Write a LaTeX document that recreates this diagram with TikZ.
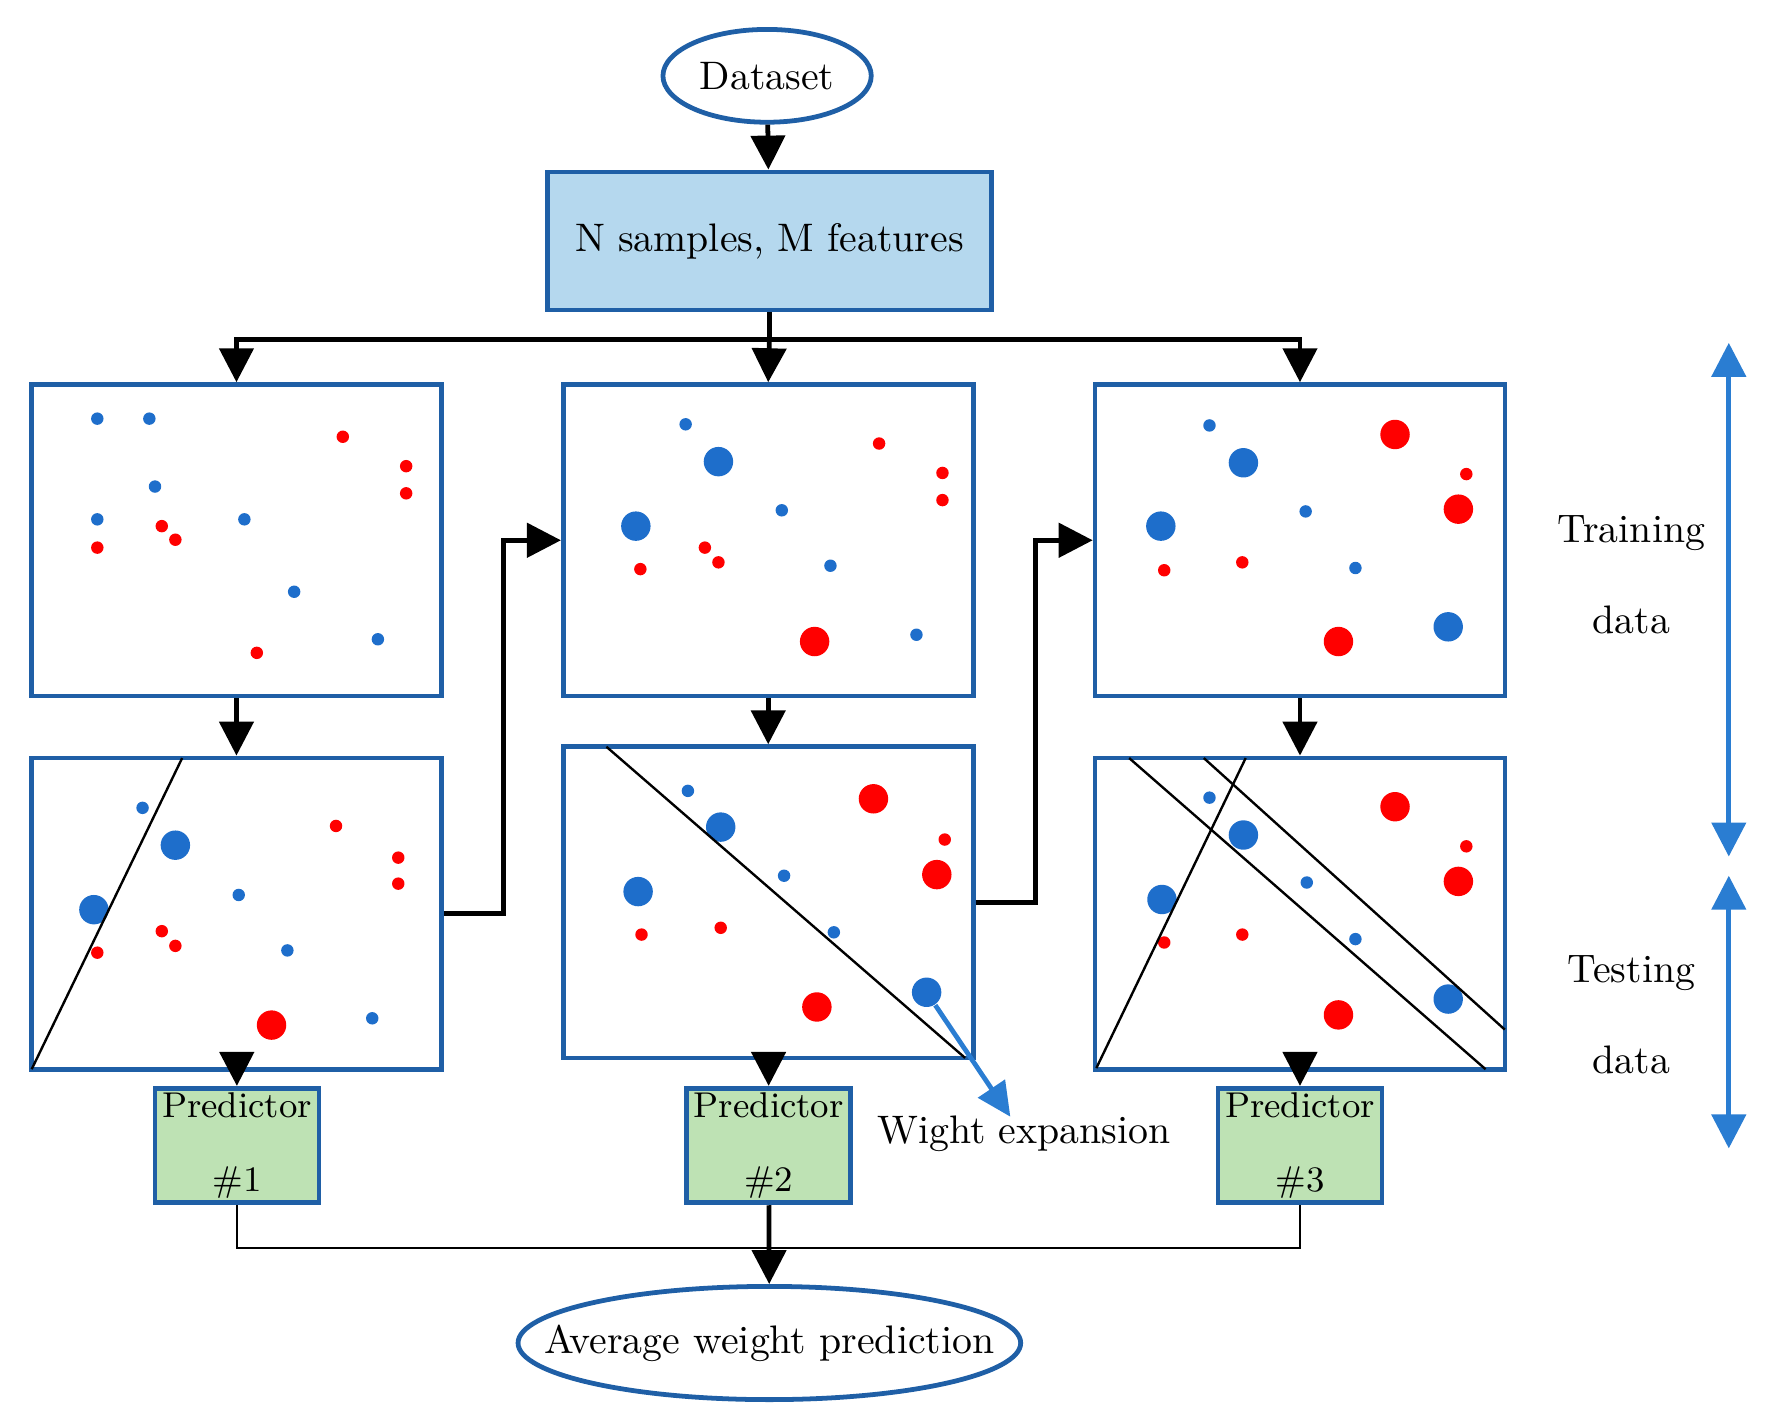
\documentclass[tikz,border=0pt]{standalone}
\usetikzlibrary{arrows.meta,shapes.geometric}
\definecolor{frameblue}{HTML}{1F5FA6}
\definecolor{dotblue}{HTML}{1E6ECB}
\definecolor{dotred}{HTML}{FF0000}
\definecolor{spanblue}{HTML}{2A7DD2}
\definecolor{samplefill}{HTML}{B5D8EE}
\definecolor{predfill}{HTML}{BEE2B4}
\begin{document}
\begin{tikzpicture}[x=0.01cm,y=-0.01cm,
		panel/.style={draw=frameblue,line width=1.2pt,minimum width=3.62cm,minimum height=2.75cm,inner sep=0pt},
		oval/.style={draw=frameblue,line width=1.2pt,ellipse,inner sep=0pt},
		predictor/.style={draw=frameblue,line width=1.2pt,fill=predfill,minimum width=1.45cm,minimum height=0.99cm,inner sep=1pt,align=center,font=\small},
		flow/.style={line width=1.2pt,-{Triangle[length=3mm,width=3mm]}},
		span/.style={spanblue,line width=1.2pt,{Triangle[length=3mm,width=3mm]}-{Triangle[length=3mm,width=3mm]}},
		cut/.style={line width=0.6pt}
	]
	\useasboundingbox (0,0) rectangle (1560,1262);
	% top
	\node[oval,minimum width=1.84cm,minimum height=0.82cm,label=center:Dataset] (dataset) at (678,67) {};
	\node[draw=frameblue,line width=1.2pt,fill=samplefill,minimum width=3.92cm,minimum height=1.22cm] (samples) at (680,213) {N samples, M features};
	% panels
	\node[panel] (train1) at (209,477.5) {};
	\node[panel] (train2) at (679,477.5) {};
	\node[panel] (train3) at (1149,477.5) {};
	\node[panel] (test1) at (209,807.5) {};
	\node[panel] (test2) at (679,797.5) {};
	\node[panel] (test3) at (1149,807.5) {};
	\node[predictor] (pred1) at (209.5,1012.5) {Predictor\\[7.8pt]\#1};
	\node[predictor] (pred2) at (679.5,1012.5) {Predictor\\[7.8pt]\#2};
	\node[predictor] (pred3) at (1149,1012.5) {Predictor\\[7.8pt]\#3};
	\node[oval,minimum width=4.44cm,minimum height=1.0cm,label=center:Average weight prediction] (avg) at (680,1187) {};
	\node[align=center] (training) at (1442,508) {Training\\[10.7pt]data};
	\node[align=center] (testing) at (1442,897) {Testing\\[10.7pt]data};
	\node (wexp) at (905,1002) {Wight expansion};
	% dots
	\foreach \p in {(86,370),(132,370),(137,430),(86,459),(216,459),(260,523),(334,565),
		(606,375),(691,451),(734,500),(810,561),(1069,376),(1154,452),(1198,502),
		(126,714),(211,791),(254,840),(329,900),(608,699),(693,774),(737,824),
		(1069,705),(1155,780),(1198,830)}
		\fill[dotblue] \p circle[radius=0.55mm];
	\foreach \p in {(635,408),(562,465),(1099,409),(1026,465),(1280,554),
		(155,747),(83,804),(637,731),(564,788),(1099,738),(1027,795),(1280,883)}
		\fill[dotblue] \p circle[radius=1.3mm];
	\foreach \p in {(303,386),(359,412),(359,436),(143,465),(155,477),(86,484),(227,577),
		(777,392),(833,418),(833,442),(623,484),(635,497),(566,503),
		(1296,419),(1029,504),(1098,497),
		(297,730),(352,758),(352,781),(143,823),(155,836),(86,842),
		(835,742),(637,820),(567,826),(1296,748),(1029,833),(1098,826)}
		\fill[dotred] \p circle[radius=0.55mm];
	\foreach \p in {(720,567),(1233,384),(1289,450),(1183,567),(240,906),
		(772,706),(828,773),(722,890),(1233,713),(1289,779),(1183,897)}
		\fill[dotred] \p circle[radius=1.3mm];
	\node[circle,fill=dotblue,minimum size=2.6mm,inner sep=0pt] (wdot) at (819,877) {};
	% split lines
	\draw[cut] (28,945) -- (161,670);
	\draw[cut] (536,660) -- (853,935);
	\draw[cut] (969,944) -- (1101,670);
	\draw[cut] (998,670) -- (1313,945);
	\draw[cut] (1064,670) -- (1330,910);
	% connectors
	\draw[flow] (dataset) -- (samples);
	\draw[line width=1.2pt] (samples.south) -- ++(0,24) coordinate (fork);
	\draw[flow] (fork) -| (train1.north);
	\draw[flow] (fork) -- (train2.north);
	\draw[flow] (fork) -| (train3.north);
	\draw[flow] (train1) -- (test1);
	\draw[flow] (train2) -- (test2);
	\draw[flow] (train3) -- (test3);
	\draw[flow] (test1) -- (pred1);
	\draw[flow] (test2) -- (pred2);
	\draw[flow] (test3) -- (pred3);
	\draw[flow] (test1.east) -- ++(53,0) |- (train2.west);
	\draw[flow] (test2.east) -- ++(53,0) |- (train3.west);
	\coordinate (join) at (680,1103);
	\draw[cut] (pred1.south) |- (join) -| (pred3.south);
	\draw[flow] (pred2) -- (avg);
	\coordinate (wtip) at (893,987);
	\draw[spanblue,line width=1.2pt,-{Triangle[length=3mm,width=2.8mm]}] (wdot) -- (wtip);
	\coordinate (traintop) at (1528,303);
	\coordinate (trainbot) at (1528,757);
	\coordinate (testtop) at (1528,774);
	\coordinate (testbot) at (1528,1015);
	\draw[span] (traintop) -- (trainbot);
	\draw[span] (testtop) -- (testbot);
\end{tikzpicture}
\end{document}
